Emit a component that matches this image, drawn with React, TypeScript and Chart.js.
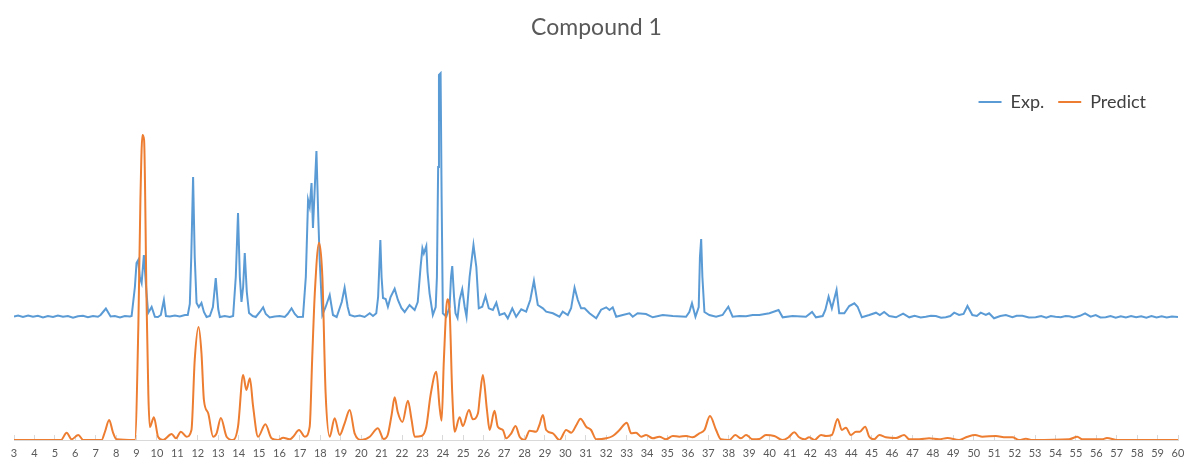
import React, { useEffect, useRef } from "react";
import { Chart, registerables } from "chart.js";

Chart.register(...registerables);

const TITLE = "Compound 1";
const SERIES_NAMES = ["Exp.", "Predict"];
const SERIES_COLORS = ["#5B9BD5", "#ED7D31"];
const X_MIN = 3;
const X_MAX = 60;
const X_STEP = 1;
const Y_MAX = 398;
const EXP_OFFSET = 123;

// [2-theta, intensity]
const EXP_POINTS: [number, number][] = [
  [3.0, 0.5], [3.2, 1.5], [3.44, 0], [3.69, 1.5], [3.93, 0.3], [4.17, 1.2], [4.42, -0.5], [4.66, 1],
  [4.91, 0], [5.15, 1.5], [5.4, 0.2], [5.64, 1], [5.89, -0.8], [6.13, 0.7], [6.38, 1.2], [6.62, -0.3],
  [6.87, 1], [7.11, 0.2], [7.24, 2], [7.4, 6], [7.5, 8.5], [7.6, 5], [7.73, 0.5], [7.94, 1],
  [8.19, -0.5], [8.43, 1], [8.68, 0.5], [8.76, 1], [8.92, 30], [9.0, 54], [9.08, 57], [9.16, 40],
  [9.25, 34], [9.36, 62], [9.49, 24], [9.57, 4], [9.74, 10], [9.9, 0.3], [10.05, 0], [10.19, 2],
  [10.34, 17], [10.44, 1], [10.63, 0.5], [10.88, 1.5], [11.12, 0.5], [11.37, 2], [11.51, 2], [11.61, 13],
  [11.68, 60], [11.77, 140], [11.85, 60], [11.94, 14], [12.05, 10], [12.18, 14], [12.3, 5], [12.43, 0],
  [12.59, 1], [12.74, 10], [12.88, 39], [13.0, 8], [13.08, 0], [13.32, 1], [13.57, 0], [13.73, 1],
  [13.86, 40], [13.97, 104], [14.06, 40], [14.14, 15], [14.22, 30], [14.3, 64], [14.4, 25], [14.51, 4],
  [14.69, 1], [14.84, 0], [15.04, 5], [15.2, 9.7], [15.33, 3], [15.52, -0.5], [15.77, 0.5], [16.01, 1],
  [16.26, 0], [16.4, 3], [16.59, 8.7], [16.75, 3], [16.89, 0], [17.15, 0.3], [17.29, 40], [17.4, 117],
  [17.48, 110], [17.57, 134], [17.64, 89], [17.73, 130], [17.81, 166], [17.9, 100], [17.97, 57], [18.1, 2],
  [18.26, 10], [18.46, 22], [18.62, 2], [18.8, 0], [19.05, 15], [19.19, 29.3], [19.34, 10], [19.44, 2],
  [19.68, 0.5], [19.93, 1.5], [20.17, 0], [20.42, 3.7], [20.58, 1], [20.74, 3.7], [20.83, 20], [20.94, 77],
  [21.0, 40], [21.07, 19], [21.2, 18], [21.31, 10.3], [21.44, 20], [21.64, 28.3], [21.8, 17], [21.97, 9],
  [22.13, 5], [22.37, 12], [22.62, 7], [22.77, 15], [22.91, 50], [23.0, 68.7], [23.07, 63.7], [23.19, 71],
  [23.25, 45], [23.35, 23.7], [23.51, 2], [23.65, 10], [23.71, 40], [23.77, 150], [23.81, 242], [23.89, 243.7],
  [23.94, 120], [24.0, 3.7], [24.17, 0.3], [24.33, 10], [24.4, 40], [24.46, 51], [24.55, 20], [24.62, 3.7],
  [24.72, -1], [24.82, 17], [24.95, 27.7], [25.07, 10], [25.16, 0.3], [25.31, 40], [25.5, 72], [25.64, 50],
  [25.76, 8.7], [25.93, 10.3], [26.09, 21], [26.25, 8.7], [26.45, 7], [26.62, 14.3], [26.78, 2], [27.02, 3.7],
  [27.18, -1.3], [27.4, 8.7], [27.59, 0.3], [27.84, 7.7], [28.08, 5.3], [28.28, 17], [28.46, 36.3], [28.65, 12],
  [28.9, 8.7], [29.06, 5.3], [29.39, 3.7], [29.71, 0.3], [29.87, 5.3], [30.12, 2], [30.28, 8.7], [30.45, 29.3],
  [30.61, 17], [30.77, 8.7], [30.94, 8.7], [31.18, 3.7], [31.51, -1.3], [31.75, 7.3], [32.0, 9.7], [32.16, 7],
  [32.32, 9.7], [32.49, 0.3], [32.81, 2], [33.14, 3.7], [33.3, 0.3], [33.54, 3.7], [33.95, 3], [34.28, -0.3],
  [34.77, 2], [35.26, 1], [35.91, 0.3], [36.07, 5], [36.2, 13.7], [36.37, 0.3], [36.53, 10], [36.59, 60],
  [36.65, 78], [36.71, 40], [36.81, 5], [37.05, 2], [37.38, 0.3], [37.7, 2], [37.83, 6], [37.98, 10.3],
  [38.19, 0.3], [38.52, 1], [38.85, 0.7], [39.17, 2], [39.5, 2], [39.99, 3.7], [40.44, 7], [40.64, -0.3],
  [41.13, 1], [41.78, 0.3], [42.08, 5], [42.27, -0.3], [42.6, 1], [42.73, 7], [42.89, 20.3], [43.05, 8.7],
  [43.28, 27], [43.41, 3.7], [43.66, 3.7], [43.9, 11], [44.15, 13.7], [44.31, 10.3], [44.52, -0.3], [44.88, 2],
  [45.21, 4.3], [45.4, 2], [45.61, 5], [45.86, 1], [46.19, -0.3], [46.54, 3.3], [46.84, -0.3], [47.1, 1.2],
  [47.4, -0.5], [47.65, 0.3], [47.9, 1.3], [48.14, 1], [48.4, -0.8], [48.63, -0.3], [48.85, 1], [49.04, 4.3],
  [49.28, 2], [49.5, 3], [49.69, 11], [49.93, 2], [50.15, 1], [50.34, 4.3], [50.59, 2], [50.75, 3.7],
  [50.99, -1.3], [51.3, 1], [51.57, 2], [51.89, -0.3], [52.1, 1.2], [52.38, 1.3], [52.7, -0.5], [53.03, -0.3],
  [53.3, 1], [53.55, -0.6], [53.77, 1], [54.0, 0.2], [54.26, -0.3], [54.5, 1], [54.67, 0.7], [54.9, -0.4],
  [55.2, 1.2], [55.45, 3.7], [55.72, 0.3], [55.97, 2], [56.2, -0.5], [56.46, -0.3], [56.7, 1], [56.95, -0.6],
  [57.2, 0.8], [57.45, -0.5], [57.7, 1], [57.95, -0.3], [58.2, 0.8], [58.45, -0.6], [58.7, 0.9], [58.95, -0.4],
  [59.2, 0.7], [59.45, -0.5], [59.7, 0.6], [60.0, 0],
];

const PREDICT_POINTS: [number, number][] = [
  [3.0, 0], [5.3, 0], [5.58, 7.3], [5.82, 0.7], [6.15, 5], [6.39, 0], [7.29, 0], [7.45, 8],
  [7.66, 20], [7.84, 8], [8.02, 0.7], [8.92, 0], [9.09, 115], [9.19, 240], [9.29, 305], [9.37, 300],
  [9.49, 140], [9.58, 45], [9.65, 13], [9.85, 22.7], [10.06, 3], [10.3, 0], [10.72, 6], [10.93, 1.7],
  [11.17, 8.3], [11.45, 3.3], [11.69, 10], [11.85, 80], [12.04, 113], [12.18, 87], [12.3, 40], [12.51, 26.7],
  [12.75, 3.3], [12.92, 6.7], [13.13, 22], [13.41, 3.3], [13.73, 0], [13.97, 13.3], [14.22, 65], [14.38, 50],
  [14.55, 61.7], [14.71, 33.3], [14.95, 3.3], [15.31, 15.7], [15.61, 1.7], [15.93, 0], [16.18, 2.3], [16.5, 0.7],
  [16.67, 3.3], [16.96, 10], [17.24, 3.3], [17.48, 13.3], [17.6, 80], [17.73, 146.7], [17.94, 197.3], [18.1, 163.3],
  [18.26, 46.7], [18.46, 3.3], [18.7, 21.7], [18.95, 5], [19.19, 16.7], [19.44, 30], [19.68, 6.7], [20.01, 0],
  [20.42, 3.3], [20.82, 11.7], [21.1, 1], [21.3, 5], [21.49, 25], [21.64, 42.7], [21.79, 28], [22.02, 18],
  [22.29, 39.3], [22.47, 20], [22.62, 3.3], [22.95, 4], [23.19, 13.3], [23.4, 45], [23.68, 68.3], [23.84, 33],
  [23.94, 19.3], [24.05, 80], [24.22, 140.7], [24.33, 130], [24.46, 46.7], [24.58, 8.3], [24.82, 22.7], [24.98, 14],
  [25.28, 30], [25.47, 20.7], [25.72, 26.7], [25.82, 45], [25.96, 65], [26.16, 30], [26.29, 10], [26.53, 29.3],
  [26.69, 13.3], [26.94, 10], [27.1, 1.7], [27.35, 6.7], [27.56, 14], [27.76, 3.3], [28.0, 0], [28.25, 9.3],
  [28.57, 8.3], [28.73, 15], [28.9, 25], [29.06, 10], [29.39, 6.7], [29.71, 0], [30.04, 10], [30.29, 7.3],
  [30.54, 15], [30.74, 21.3], [31.02, 13.3], [31.26, 10], [31.51, 0.7], [32.0, 1.7], [32.32, 4], [32.65, 10],
  [33.01, 17.3], [33.22, 6.7], [33.46, 7.3], [33.71, 3.3], [33.95, 5], [34.28, 1.7], [34.6, 3.3], [34.93, 0.7],
  [35.26, 4], [35.58, 3.3], [35.91, 4], [36.23, 2.7], [36.56, 6.7], [36.81, 10], [37.08, 24], [37.38, 10],
  [37.62, 0.7], [38.03, 0], [38.32, 5], [38.6, 1.7], [38.85, 5], [39.17, 0.7], [39.5, 1], [39.82, 5],
  [40.23, 4], [40.64, 0], [40.93, 2.7], [41.21, 7.7], [41.45, 2.7], [41.7, 0.7], [41.94, 2.7], [42.19, 0],
  [42.52, 5], [42.76, 4], [43.05, 5], [43.33, 21], [43.54, 10], [43.74, 12.3], [43.98, 5], [44.23, 8.3],
  [44.42, 8.3], [44.68, 13.3], [44.88, 3.3], [45.12, 0.7], [45.37, 5], [45.69, 2.7], [46.19, 2], [46.59, 5],
  [46.84, 0.7], [47.33, 0.7], [47.81, 1.7], [48.3, 0.7], [48.71, 2], [49.28, 0], [49.69, 3.3], [50.07, 5],
  [50.42, 3.3], [51.08, 4], [51.57, 2.7], [51.89, 2.7], [52.22, 0], [52.55, 1.3], [52.87, 0], [54.67, 0.7],
  [55.07, 3.3], [55.31, 0.7], [56.29, 0.7], [56.52, 2], [57.03, 0], [60.0, 0],
];

// Places the legend inside the plot, top right, as in the reference.
const legendPlacement = {
  id: "legendPlacement",
  afterLayout(chart: any) {
    const lg = chart.legend;
    if (!lg) return;
    lg.top = 79;
    lg.height = 40;
    lg.bottom = lg.top + lg.height;
    lg.right = 1160;
    lg.width = lg.right - lg.left;
  },
};

export default function App() {
  const canvasRef = useRef<HTMLCanvasElement>(null);

  useEffect(() => {
    document.body.style.margin = "0";
    const canvas = canvasRef.current;
    if (!canvas) return;
    Chart.defaults.font.family = "Lato";

    const chart = new Chart(canvas, {
      type: "line",
      data: {
        datasets: [
          {
            label: SERIES_NAMES[0],
            data: EXP_POINTS.map(([x, y]) => ({ x, y: y + EXP_OFFSET })),
            borderColor: SERIES_COLORS[0],
            backgroundColor: SERIES_COLORS[0],
            borderWidth: 2,
            pointRadius: 0,
            tension: 0,
            order: 1,
          },
          {
            label: SERIES_NAMES[1],
            data: PREDICT_POINTS.map(([x, y]) => ({ x, y })),
            borderColor: SERIES_COLORS[1],
            backgroundColor: SERIES_COLORS[1],
            borderWidth: 2,
            pointRadius: 0,
            cubicInterpolationMode: "monotone",
            order: 0,
          },
        ],
      },
      options: {
        responsive: false,
        animation: false,
        devicePixelRatio: 1,
        layout: { padding: { left: 14, right: 5, top: 0, bottom: 0 } },
        plugins: {
          title: {
            display: true,
            text: TITLE,
            color: "#595959",
            font: { family: "Lato", size: 23, weight: "normal" },
            padding: { top: 14, bottom: 0 },
          },
          legend: {
            position: "top",
            align: "end",
            maxHeight: 0.4,
            labels: {
              usePointStyle: true,
              pointStyle: "line",
              pointStyleWidth: 23,
              padding: 14,
              color: "#404040",
              font: { family: "Lato", size: 18 },
              sort: (a: any, b: any) => a.datasetIndex - b.datasetIndex,
            },
          },
          tooltip: { enabled: false },
        },
        scales: {
          x: {
            type: "linear",
            min: X_MIN,
            max: X_MAX,
            grid: {
              display: true,
              drawOnChartArea: false,
              drawTicks: true,
              tickLength: -5,
              color: "#D9D9D9",
            },
            border: { display: true, color: "#D9D9D9", width: 1 },
            ticks: {
              stepSize: X_STEP,
              autoSkip: false,
              maxRotation: 0,
              minRotation: 0,
              padding: 12,
              color: "#595959",
              font: { family: "Lato", size: 11 },
            },
            afterFit: (scale: any) => {
              scale.height = 18;
              scale.paddingLeft = 3;
              scale.paddingRight = 6;
            },
          },
          y: {
            display: false,
            min: 0,
            max: Y_MAX,
          },
        },
      },
      plugins: [legendPlacement],
    });
    return () => chart.destroy();
  }, []);

  return (
    <div style={{ position: "absolute", left: 0, top: 0, width: 1184, height: 458, background: "#fff" }}>
      <canvas ref={canvasRef} width={1184} height={458} style={{ display: "block" }} />
    </div>
  );
}
